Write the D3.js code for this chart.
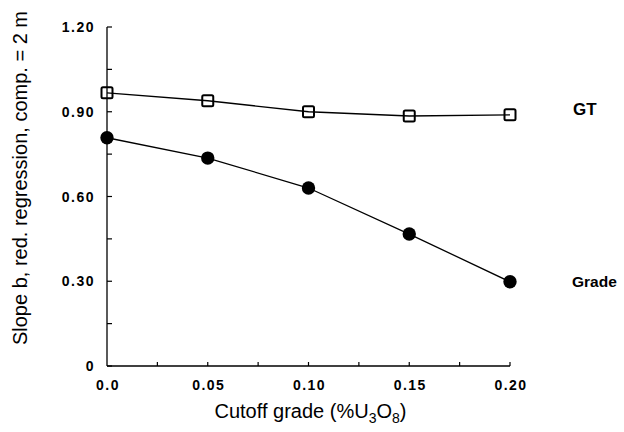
<!DOCTYPE html>
<html>
<head>
<meta charset="utf-8">
<script src="https://cdn.jsdelivr.net/npm/d3@7"></script>
<style>
  body { margin: 0; background: #fff; }
  text { font-family: "Liberation Sans", Arial, sans-serif; fill: #000; }
</style>
</head>
<body>
<div id="chart"></div>
<script>
const cutoffs = [0.0, 0.05, 0.10, 0.15, 0.20];
const gtSlope = [0.967, 0.939, 0.900, 0.885, 0.889];
const gradeSlope = [0.808, 0.736, 0.630, 0.467, 0.298];
const xTickValues = [0, 0.05, 0.10, 0.15, 0.20];
const xTickLabels = ["0.0", "0.05", "0.10", "0.15", "0.20"];
const yTickValues = [0, 0.30, 0.60, 0.90, 1.20];
const yTickLabels = ["0", "0.30", "0.60", "0.90", "1.20"];

const svgWidth = 624, svgHeight = 432;
const plotLeft = 107, plotRight = 510, plotTop = 27, plotBottom = 366;

const svg = d3.select("#chart").append("svg")
  .attr("width", svgWidth)
  .attr("height", svgHeight);

const x = d3.scaleLinear().domain([0, 0.2]).range([plotLeft, plotRight]);
const y = d3.scaleLinear().domain([0, 1.2]).range([plotBottom, plotTop]);

// axes lines + inward ticks
svg.append("line")
  .attr("x1", plotLeft).attr("x2", plotLeft)
  .attr("y1", y(1.2)).attr("y2", y(0))
  .attr("stroke", "#000").attr("stroke-width", 1.3);
svg.append("line")
  .attr("x1", x(0)).attr("x2", x(0.2))
  .attr("y1", plotBottom).attr("y2", plotBottom)
  .attr("stroke", "#000").attr("stroke-width", 1.3);

d3.range(0, 1.2001, 0.15).forEach(v => {
  svg.append("line")
    .attr("x1", plotLeft).attr("x2", plotLeft + 5)
    .attr("y1", y(v)).attr("y2", y(v))
    .attr("stroke", "#000").attr("stroke-width", 1.2);
});
d3.range(0.025, 0.2001, 0.025).forEach(v => {
  svg.append("line")
    .attr("x1", x(v)).attr("x2", x(v))
    .attr("y1", plotBottom).attr("y2", plotBottom - 4)
    .attr("stroke", "#000").attr("stroke-width", 1.2);
});

// tick labels
yTickValues.forEach((v, i) => {
  svg.append("text")
    .attr("x", 95)
    .attr("y", y(v) + 5)
    .attr("text-anchor", "end")
    .style("font-size", "14px")
    .style("font-weight", "bold")
    .style("letter-spacing", "1.5px")
    .text(yTickLabels[i]);
});
xTickValues.forEach((v, i) => {
  svg.append("text")
    .attr("x", x(v) + 1)
    .attr("y", 390)
    .attr("text-anchor", "middle")
    .style("font-size", "14px")
    .style("font-weight", "bold")
    .style("letter-spacing", "1.5px")
    .text(xTickLabels[i]);
});

// axis titles
const xt = svg.append("text")
  .attr("x", (plotLeft + plotRight) / 2 + 2)
  .attr("y", 418)
  .attr("text-anchor", "middle")
  .style("font-size", "20px");
xt.append("tspan").text("Cutoff grade (%U");
xt.append("tspan").attr("dy", 5).style("font-size", "14px").text("3");
xt.append("tspan").attr("dy", -5).text("O");
xt.append("tspan").attr("dy", 5).style("font-size", "14px").text("8");
xt.append("tspan").attr("dy", -5).text(")");

svg.append("text")
  .attr("transform", "translate(27,178) rotate(-90)")
  .attr("text-anchor", "middle")
  .style("font-size", "20px")
  .text("Slope b, red. regression, comp. = 2 m");

// lines
const line = d3.line()
  .x((d, i) => x(cutoffs[i]))
  .y(d => y(d));

svg.append("path")
  .datum(gtSlope)
  .attr("d", line)
  .attr("fill", "none")
  .attr("stroke", "#000")
  .attr("stroke-width", 1.3);
svg.append("path")
  .datum(gradeSlope)
  .attr("d", line)
  .attr("fill", "none")
  .attr("stroke", "#000")
  .attr("stroke-width", 1.3);

// markers
svg.selectAll(".sq")
  .data(gtSlope)
  .enter()
  .append("rect")
  .attr("x", (d, i) => x(cutoffs[i]) - 5.5)
  .attr("y", d => y(d) - 5.5)
  .attr("width", 11)
  .attr("height", 11)
  .attr("rx", 1.5)
  .attr("fill", "none")
  .attr("stroke", "#000")
  .attr("stroke-width", 2);

svg.selectAll(".dot")
  .data(gradeSlope)
  .enter()
  .append("circle")
  .attr("cx", (d, i) => x(cutoffs[i]))
  .attr("cy", d => y(d))
  .attr("r", 6.7)
  .attr("fill", "#000");

// series labels
svg.append("text")
  .attr("x", 573).attr("y", 115)
  .style("font-size", "17px")
  .style("font-weight", "bold")
  .text("GT");
svg.append("text")
  .attr("x", 572).attr("y", 287)
  .style("font-size", "15.5px")
  .style("font-weight", "bold")
  .text("Grade");
</script>
</body>
</html>
